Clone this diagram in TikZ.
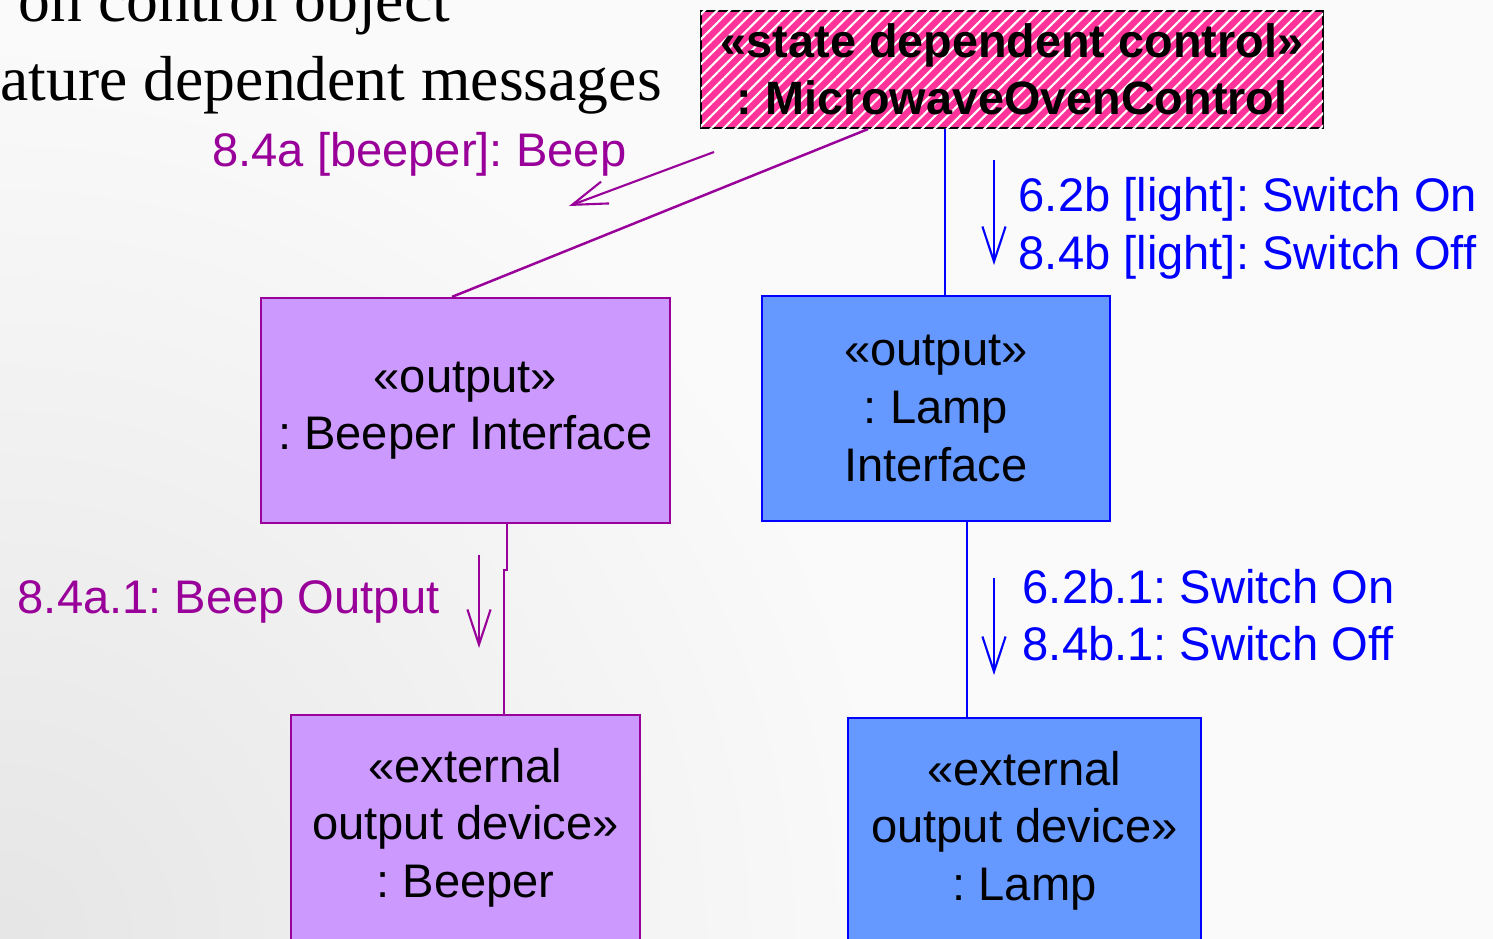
\documentclass[tikz,border=0pt]{standalone}
\usepackage{fontspec}
\setmainfont{Liberation Sans}
\newfontfamily\slidefont{Liberation Serif}
\usepackage{xcolor}
\definecolor{ctrlpink}{HTML}{FF3399}
\definecolor{beepfill}{HTML}{CC99FF}
\definecolor{beepline}{HTML}{990099}
\definecolor{lampfill}{HTML}{6699FF}
\definecolor{lampline}{HTML}{0000FF}
\usetikzlibrary{arrows.meta, positioning, calc, patterns.meta}
\frenchspacing

\begin{document}
\begin{tikzpicture}[
    x=0.01cm, y=-0.01cm,
    every node/.style={font=\fontsize{13.4}{16.4}\selectfont},
    box/.style={draw, line width=0.6pt, align=center, inner sep=0pt,
                minimum height=2.25cm},
    ctrlbox/.style={box, fill=ctrlpink, draw=black, minimum height=1.17cm,
                    postaction={pattern={Lines[angle=45, distance=2.5pt, line width=0.6pt]},
                                pattern color=white},
                    font=\fontsize{13.3}{16.2}\selectfont\bfseries},
    beepbox/.style={box, fill=beepfill, draw=beepline},
    lampbox/.style={box, fill=lampfill, draw=lampline},
    link/.style={line width=0.7pt},
    msg/.style={line width=0.6pt, -{Straight Barb[length=10pt, width=6.6pt]}},
    msgtext/.style={inner sep=0pt, anchor=base west},
    slidetext/.style={inner sep=0pt, anchor=base west,
                      font=\slidefont\fontsize{18.1}{21.7}\selectfont},
]
\useasboundingbox (0,0) rectangle (1493,939);
\clip (0,0) rectangle (1493,939);

% --- backdrop: light grey, darker towards the lower left ---
\fill[gray!4] (0,0) rectangle (1493,939);
\shade[inner color=gray!20, outer color=gray!4] (0,939) circle (900);

% --- slide title lines (cut by the page edge) ---
\node[slidetext] (titleA) at (18,21)  {on control object};
\node[slidetext] (titleB) at (0,100)  {ature dependent messages};

% --- objects ---
\node[ctrlbox, minimum width=6.22cm] (ctrl) at (1012,69.5)
    {«state dependent control»\\: MicrowaveOvenControl};

\node[beepbox, minimum width=4.09cm] (beepif) at (465.5,410.5)
    {«output»\\: Beeper Interface};
\node[lampbox, minimum width=3.48cm] (lampif) at (936,408.5)
    {«output»\\: Lamp\\Interface};

\node[beepbox, minimum width=3.49cm] (beeper) at (465.5,827.5)
    {«external\\output device»\\: Beeper};
\node[lampbox, minimum width=3.53cm] (lamp) at (1024.5,830.5)
    {«external\\output device»\\: Lamp};

% --- links between objects ---
\draw[link, beepline] ($(ctrl.south)+(-144,0)$) -- ($(beepif.north)+(-13.5,0)$);
\draw[link, lampline] ($(ctrl.south)+(-67,0)$) -- ($(lampif.north)+(9,0)$);
\draw[link, beepline] ($(beepif.south)+(41.5,0)$) |- ++(-3,46)
    -- ($(beeper.north)+(38.5,0)$);
\draw[link, lampline] ($(lampif.south)+(31,0)$) -- ($(lamp.north)+(-57.5,0)$);

% --- messages ---
\coordinate (beepA) at (714,152);
\coordinate (beepB) at (569,206);
\draw[msg, beepline] (beepA) -- (beepB);
\node[msgtext, anchor=base east, text=beepline] (beepmsg) at (627,166)
    {8.4a [beeper]: Beep};

\coordinate (lightA) at (994,160);
\coordinate (lightB) at (994,265);
\draw[msg, lampline] (lightA) -- (lightB);
\node[msgtext, text=lampline] (lightOn)  at (1018,211) {6.2b [light]: Switch On};
\node[msgtext, text=lampline] (lightOff) at (1018,269) {8.4b [light]: Switch Off};

\coordinate (outA) at (479,555);
\coordinate (outB) at (479,648);
\draw[msg, beepline] (outA) -- (outB);
\node[msgtext, text=beepline] (outmsg) at (17,613) {8.4a.1: Beep Output};

\coordinate (lampA) at (994,578);
\coordinate (lampB) at (994,675);
\draw[msg, lampline] (lampA) -- (lampB);
\node[msgtext, text=lampline] (lampOn)  at (1022,603) {6.2b.1: Switch On};
\node[msgtext, text=lampline] (lampOff) at (1022,660) {8.4b.1: Switch Off};
\end{tikzpicture}
\end{document}
